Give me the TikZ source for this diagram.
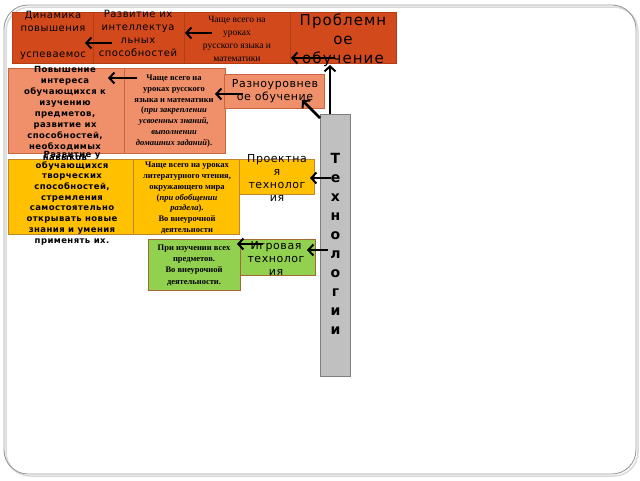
\documentclass[tikz,border=0pt]{standalone}
\usepackage{fontspec}
\setmainfont{Liberation Serif}
\newfontfamily\sansA[LetterSpace=5]{DejaVu Sans}
\newfontfamily\sansBig[LetterSpace=7]{DejaVu Sans}
\newfontfamily\sansT{DejaVu Sans}
\usetikzlibrary{arrows.meta}
\definecolor{dkor}{HTML}{D24A1C}
\definecolor{dkorb}{HTML}{B23E16}
\definecolor{salm}{HTML}{F0906A}
\definecolor{salmb}{HTML}{C8643E}
\definecolor{goldf}{HTML}{FFC000}
\definecolor{goldb}{HTML}{C0862A}
\definecolor{grnf}{HTML}{92D050}
\definecolor{grnb}{HTML}{A06A30}
\definecolor{gryf}{HTML}{C0C0C0}
\definecolor{gryb}{HTML}{7F7F7F}
\tikzset{
  box/.style={anchor=north west, inner sep=0pt, line width=0.7pt},
  txt/.style={inner sep=0pt, align=center, text=black},
  topsans/.style={font={\sansA\fontsize{10}{13}\selectfont}},
  midsans/.style={font={\sansA\fontsize{11}{13}\selectfont}},
  boldsans/.style={font={\sansA\bfseries\fontsize{8.5}{10.7}\selectfont}},
  serifb/.style={font={\bfseries\fontsize{8.5}{10.8}\selectfont}},
  arr/.style={draw=black, line width=2.6pt, -{Straight Barb[length=5pt,width=11pt,line width=2pt]}}
}
\begin{document}
\begin{tikzpicture}[x=1pt,y=-1pt]
\useasboundingbox (0,0) rectangle (640,480);
% frame with shadow
\draw[draw=black!15, line width=1.5pt, rounded corners=24pt] (6,7) rectangle (638,476);
\draw[draw=black!40, line width=0.9pt, rounded corners=24pt] (4,5) rectangle (636,474);

% top row
\node[box, fill=dkor, draw=dkorb, minimum width=81pt, minimum height=51pt] (b1) at (12,12) {};
\node[box, fill=dkor, draw=dkorb, minimum width=91pt, minimum height=51pt] (b2) at (93,12) {};
\node[box, fill=dkor, draw=dkorb, minimum width=106pt, minimum height=51pt] (b3) at (184,12) {};
\node[box, fill=dkor, draw=dkorb, minimum width=106pt, minimum height=51pt] (b4) at (290,12) {};

% row 2
\node[box, fill=salm, draw=salmb, minimum width=116pt, minimum height=85pt] (ba) at (8,68) {};
\node[box, fill=salm, draw=salmb, minimum width=101pt, minimum height=85pt] (bb) at (124,68) {};
\node[box, fill=salm, draw=salmb, minimum width=100pt, minimum height=34pt] (bc) at (224,74) {};

% row 3
\node[box, fill=goldf, draw=goldb, minimum width=125pt, minimum height=75pt] (bd) at (8,159) {};
\node[box, fill=goldf, draw=goldb, minimum width=106pt, minimum height=75pt] (be) at (133,159) {};
\node[box, fill=goldf, draw=goldb, minimum width=75pt, minimum height=35pt] (bf) at (239,159) {};

% row 4
\node[box, fill=grnf, draw=grnb, minimum width=92pt, minimum height=51pt] (bg) at (148,239) {};
\node[box, fill=grnf, draw=grnb, minimum width=75pt, minimum height=36pt] (bh) at (240,239) {};

% technologies bar
\node[box, fill=gryf, draw=gryb, minimum width=30pt, minimum height=262pt] (tech) at (320,114) {};

% texts
\node[txt, topsans] (t1) at (53,35) {Динамика\\повышения\\\strut\\успеваемос};
\node[txt, topsans] (t2) at (138,33) {Развитие их\\интеллектуа\\льных\\способностей};
\node[txt, font={\fontsize{9.5}{12.8}\selectfont}] (t3) at (237,39) {Чаще всего на\\уроках\\русского языка и\\математики};
\node[txt, font={\sansBig\fontsize{15}{19}\selectfont}] (t4) at (343,40) {Проблемн\\ое\\обучение};

\node[txt, font={\sansA\bfseries\fontsize{8.5}{11}\selectfont}] (ta) at (65,113) {Повышение\\интереса\\обучающихся к\\изучению\\предметов,\\развитие их\\способностей,\\необходимых\\навыков};
\node[txt, font={\bfseries\fontsize{8.5}{10.8}\selectfont}] (tb) at (174,111) {Чаще всего на\\уроках русского\\языка и математики\\(\textit{при закреплении}\\\textit{усвоенных знаний,}\\\textit{выполнении}\\\textit{домашних заданий}).};
\node[txt, midsans] (tc) at (275,91) {Разноуровнев\\ое обучение};

\node[txt, boldsans] (td) at (72,198) {Развитие у\\обучающихся\\творческих\\способностей,\\стремления\\самостоятельно\\открывать новые\\знания и умения\\применять их.};
\node[txt, serifb] (te) at (187,198) {Чаще всего на уроках\\литературного чтения,\\окружающего мира\\(\textit{при обобщении}\\\textit{раздела}).\\Во внеурочной\\деятельности};
\node[txt, midsans] (tf) at (277,178) {Проектна\\я\\технолог\\ия};

\node[txt, font={\bfseries\fontsize{8.5}{11.3}\selectfont}] (tg) at (194,265) {При изучении всех\\предметов.\\Во внеурочной\\деятельности.};
\node[txt, midsans] (th) at (276,258) {Игровая\\технолог\\ия};

\node[txt, font={\sansT\bfseries\fontsize{14}{19}\selectfont}] (tt) at (335.5,244) {Т\\е\\х\\н\\о\\л\\о\\г\\и\\и};

% arrow end coordinates
\coordinate (a1s) at (112,43); \coordinate (a1e) at (85,43);
\coordinate (a2s) at (212,33); \coordinate (a2e) at (185,33);
\coordinate (a3s) at (334,58); \coordinate (a3e) at (291,58);
\coordinate (a4s) at (137,78); \coordinate (a4e) at (108,78);
\coordinate (a5s) at (243,94); \coordinate (a5e) at (215,94);
\coordinate (a6s) at (320,118); \coordinate (a6e) at (302,100);
\coordinate (a7s) at (331,178); \coordinate (a7e) at (310,178);
\coordinate (a8s) at (328,250); \coordinate (a8e) at (307,250);
\coordinate (a9s) at (263,244); \coordinate (a9e) at (237,244);
\coordinate (avs) at (330,114); \coordinate (ave) at (330,65);

\draw[arr] (a1s) -- (a1e);
\draw[arr] (a2s) -- (a2e);
\draw[arr] (a3s) -- (a3e);
\draw[arr] (a4s) -- (a4e);
\draw[arr] (a5s) -- (a5e);
\draw[arr] (a6s) -- (a6e);
\draw[arr] (a7s) -- (a7e);
\draw[arr] (a8s) -- (a8e);
\draw[arr] (a9s) -- (a9e);
\draw[arr, line width=2pt] (avs) -- (ave);
\end{tikzpicture}
\end{document}
